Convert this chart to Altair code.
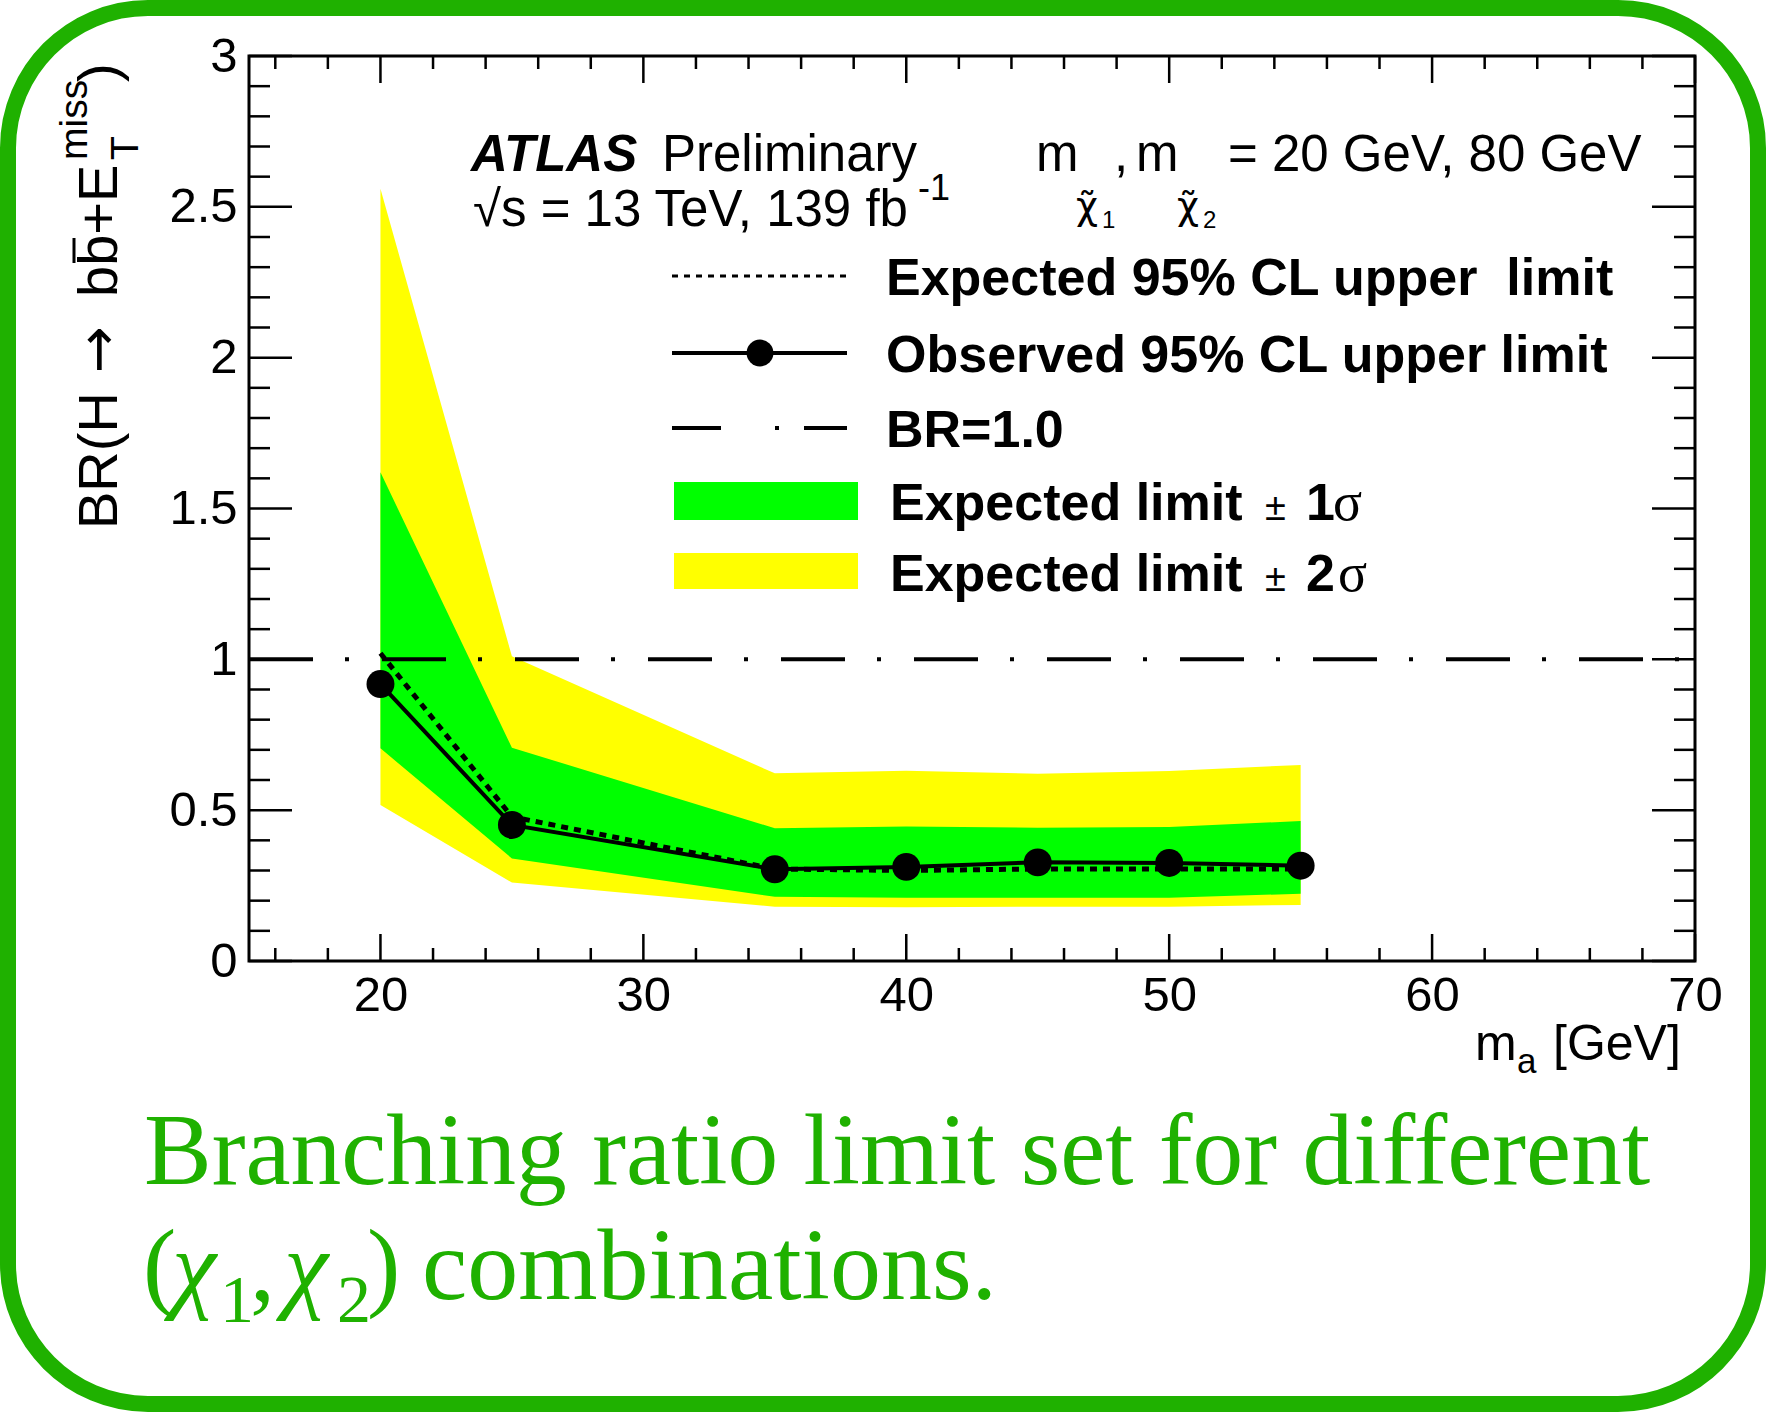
import altair as alt
import pandas as pd

# ---------------- data ----------------
mass = [20, 25, 35, 40, 45, 50, 55]
observed = [0.918, 0.451, 0.304, 0.312, 0.327, 0.325, 0.316]
expected = [1.02, 0.478, 0.305, 0.300, 0.305, 0.305, 0.305]
band1_lo = [0.705, 0.340, 0.213, 0.210, 0.210, 0.210, 0.223]
band1_hi = [1.62, 0.707, 0.440, 0.446, 0.442, 0.444, 0.464]
band2_lo = [0.517, 0.260, 0.180, 0.178, 0.180, 0.180, 0.186]
band2_hi = [2.56, 1.01, 0.622, 0.631, 0.621, 0.630, 0.650]
br_level = [1.0]

x_major = [20, 30, 40, 50, 60, 70]
x_minor = [16, 18, 22, 24, 26, 28, 32, 34, 36, 38, 42, 44, 46, 48,
           52, 54, 56, 58, 62, 64, 66, 68]
y_major = [0, 0.5, 1, 1.5, 2, 2.5, 3]
y_minor = [0.1, 0.2, 0.3, 0.4, 0.6, 0.7, 0.8, 0.9, 1.1, 1.2, 1.3, 1.4,
           1.6, 1.7, 1.8, 1.9, 2.1, 2.2, 2.3, 2.4, 2.6, 2.7, 2.8, 2.9]

atlas_word = "ATLAS"
prelim_word = "Preliminary"
energy_text = "√s = 13 TeV, 139 fb"
lumi_exp = "-1"
mass_m = "m"
chi_tilde = "χ\u0303"
chi_sym = "χ"
sub_one = "1"
sub_two = "2"
comma_sym = ","
mass_values = "= 20 GeV, 80 GeV"
legend_labels = ["Expected 95% CL upper\u00a0 limit", "Observed 95% CL upper limit",
                 "BR=1.0", "Expected limit", "Expected limit"]
pm_sym = "±"
sigma_sym = "σ"
ytitle_a = "BR(H"
ytitle_arrow = "→"
ytitle_b = "bb+E"
ytitle_sub = "T"
ytitle_sup = "miss"
ytitle_close = ")"
xtitle_m = "m"
xtitle_sub = "a"
xtitle_unit = "[GeV]"
caption_line1 = "Branching ratio limit set for different"
caption_open = "("
caption_close = ")"
caption_rest = "combinations."

# ---------------- layout ----------------
OX, OY = 249, 56          # plot origin in page pixels
W, H = 1446, 905
GREEN_BORDER = "#1fb100"
SANS = "Liberation Sans"
SERIF = "Liberation Serif"

df = pd.DataFrame({"m": mass, "obs": observed, "exp": expected,
                   "s1lo": band1_lo, "s1hi": band1_hi,
                   "s2lo": band2_lo, "s2hi": band2_hi})

xs = alt.Scale(domain=[15, 70], nice=False, zero=False)
ys = alt.Scale(domain=[0, 3], nice=False, zero=False)
xaxis = alt.Axis(values=x_major, ticks=False, tickSize=0, domain=False, grid=False,
                 labelFontSize=49, labelFont=SANS, labelColor="black", labelPadding=10,
                 labelFlush=False, labelOverlap=False, title=None)
yaxis = alt.Axis(values=y_major, format="~g", ticks=False, tickSize=0, domain=False,
                 grid=False, labelFontSize=49, labelFont=SANS, labelColor="black",
                 labelPadding=12, labelOverlap=False, title=None)


def X(f):
    return alt.X(f, type="quantitative", scale=xs, axis=xaxis)


def Y(f):
    return alt.Y(f, type="quantitative", scale=ys, axis=yaxis)


base = alt.Chart(df)
band2 = base.mark_area(color="#ffff00", opacity=1).encode(x=X("m"), y=Y("s2lo"), y2="s2hi")
band1 = base.mark_area(color="#00ff00", opacity=1).encode(x=X("m"), y=Y("s1lo"), y2="s1hi")
br_line = alt.Chart(pd.DataFrame({"v": br_level})).mark_rule(
    color="black", strokeWidth=4, strokeDash=[64, 32, 4, 33]).encode(
    y=Y("v"), x=alt.value(0), x2=alt.value(W))
exp_line = base.mark_line(color="black", strokeWidth=5, strokeDash=[7, 6]).encode(
    x=X("m"), y=Y("exp"))
obs_line = base.mark_line(color="black", strokeWidth=4).encode(x=X("m"), y=Y("obs"))
obs_pts = base.mark_circle(color="black", opacity=1, size=780).encode(x=X("m"), y=Y("obs"))


# ---------------- ticks (inward, ROOT style) ----------------
def yticks(vals, length):
    d = alt.Chart(pd.DataFrame({"v": vals}))
    left = d.mark_rule(color="black", strokeWidth=2.5).encode(
        y=Y("v"), x=alt.value(0), x2=alt.value(length))
    right = d.mark_rule(color="black", strokeWidth=2.5).encode(
        y=Y("v"), x=alt.value(W - length), x2=alt.value(W))
    return [left, right]


def xticks(vals, length):
    d = alt.Chart(pd.DataFrame({"v": vals}))
    bottom = d.mark_rule(color="black", strokeWidth=2.5).encode(
        x=X("v"), y=alt.value(H - length), y2=alt.value(H))
    top = d.mark_rule(color="black", strokeWidth=2.5).encode(
        x=X("v"), y=alt.value(0), y2=alt.value(length))
    return [bottom, top]


ticks = yticks(y_major, 43) + yticks(y_minor, 21) + xticks(x_major, 27) + xticks(x_minor, 13)


# ---------------- text helper ----------------
def txt(s, x, y, size, font=SANS, weight="normal", style="normal", color="black",
        angle=0, align="left", baseline="alphabetic"):
    return alt.Chart(pd.DataFrame({"t": [s]})).mark_text(
        font=font, fontSize=size, fontWeight=weight, fontStyle=style, color=color,
        angle=angle, align=align, baseline=baseline).encode(
        text="t:N", x=alt.value(x - OX), y=alt.value(y - OY))


texts = [
    txt(atlas_word, 471, 171, 51, weight="bold", style="italic"),
    txt(prelim_word, 662, 171, 51),
    txt(energy_text, 473, 226, 51),
    txt(lumi_exp, 918, 200, 36),
    txt(mass_m, 1036, 171, 51),
    txt(chi_tilde, 1076, 219, 38, font="DejaVu Sans"),
    txt(sub_one, 1102, 228, 24),
    txt(comma_sym, 1114, 171, 51),
    txt(mass_m, 1136, 171, 51),
    txt(chi_tilde, 1177, 219, 38, font="DejaVu Sans"),
    txt(sub_two, 1203, 228, 24),
    txt(mass_values, 1228, 171, 51),
    # legend text
    txt(legend_labels[0], 886, 295, 52, weight="bold"),
    txt(legend_labels[1], 886, 372, 52, weight="bold"),
    txt(legend_labels[2], 886, 447, 52, weight="bold"),
    txt(legend_labels[3], 890, 520, 52, weight="bold"),
    txt(pm_sym, 1265, 520, 38),
    txt(sub_one, 1306, 520, 52, weight="bold"),
    txt(sigma_sym, 1333, 520, 54, font=SERIF),
    txt(legend_labels[4], 890, 591, 52, weight="bold"),
    txt(pm_sym, 1265, 591, 38),
    txt(sub_two, 1306, 591, 52, weight="bold"),
    txt(sigma_sym, 1338, 591, 54, font=SERIF),
    # y title (rotated)
    txt(ytitle_a, 117, 529, 56, angle=270),
    txt(ytitle_arrow, 117, 373, 56, font="DejaVu Sans", angle=270),
    txt(ytitle_b, 117, 297, 56, angle=270),
    txt(ytitle_sub, 138, 160, 39, angle=270),
    txt(ytitle_sup, 87, 160, 39, angle=270),
    txt(ytitle_close, 117, 82, 56, angle=270),
    # x title
    txt(xtitle_m, 1475, 1060, 50),
    txt(xtitle_sub, 1517, 1073, 35),
    txt(xtitle_unit, 1553, 1060, 50),
    # caption
    txt(caption_line1, 144, 1184, 101.5, font=SERIF, color=GREEN_BORDER),
    txt(caption_open, 143, 1298, 100, font=SERIF, color=GREEN_BORDER),
    txt(chi_sym, 172, 1300, 100, font=SERIF, style="italic", color=GREEN_BORDER),
    txt(sub_one, 220, 1322, 68, font=SERIF, color=GREEN_BORDER),
    txt(comma_sym, 250, 1300, 100, font=SERIF, color=GREEN_BORDER),
    txt(chi_sym, 284, 1300, 100, font=SERIF, style="italic", color=GREEN_BORDER),
    txt(sub_two, 337, 1322, 68, font=SERIF, color=GREEN_BORDER),
    txt(caption_close, 367, 1298, 100, font=SERIF, color=GREEN_BORDER),
    txt(caption_rest, 422, 1299, 102, font=SERIF, color=GREEN_BORDER),
]

# overline on the second b of the y title
one = pd.DataFrame({"k": [0]})
overline = alt.Chart(one).mark_rule(color="black", strokeWidth=3).encode(
    x=alt.value(74 - OX), y=alt.value(238 - OY), y2=alt.value(263 - OY))

# ---------------- legend samples ----------------
leg = [
    alt.Chart(one).mark_rule(color="black", strokeWidth=3, strokeDash=[6, 6]).encode(
        x=alt.value(672 - OX), x2=alt.value(847 - OX), y=alt.value(276 - OY)),
    alt.Chart(one).mark_rule(color="black", strokeWidth=4).encode(
        x=alt.value(672 - OX), x2=alt.value(847 - OX), y=alt.value(353 - OY)),
    alt.Chart(one).mark_circle(color="black", opacity=1).encode(
        x=alt.value(760 - OX), y=alt.value(353 - OY), size=alt.value(720)),
    alt.Chart(one).mark_rule(color="black", strokeWidth=4, strokeDash=[49, 54, 4, 25, 60]).encode(
        x=alt.value(672 - OX), x2=alt.value(847 - OX), y=alt.value(428 - OY)),
    alt.Chart(one).mark_rect(color="#00ff00").encode(
        x=alt.value(674 - OX), x2=alt.value(858 - OX), y=alt.value(482 - OY), y2=alt.value(520 - OY)),
    alt.Chart(one).mark_rect(color="#ffff00").encode(
        x=alt.value(674 - OX), x2=alt.value(858 - OX), y=alt.value(553 - OY), y2=alt.value(589 - OY)),
]

border = alt.Chart(one).mark_rect(filled=False, stroke=GREEN_BORDER, strokeWidth=16,
                                  cornerRadius=140).encode(
    x=alt.value(8 - OX), x2=alt.value(1758 - OX), y=alt.value(8 - OY), y2=alt.value(1404 - OY))

chart = alt.layer(band2, band1, br_line, exp_line, obs_line, obs_pts, *ticks, *leg,
                  overline, *texts, border).properties(
    width=W, height=H,
    padding={"left": OX, "top": OY, "right": 1766 - OX - W, "bottom": 1412 - OY - H},
    autosize=alt.AutoSizeParams(type="none"),
    background="white",
).configure_view(stroke="black", strokeWidth=3)

chart.save("out.html", embed_options={"renderer": "svg", "actions": False})
